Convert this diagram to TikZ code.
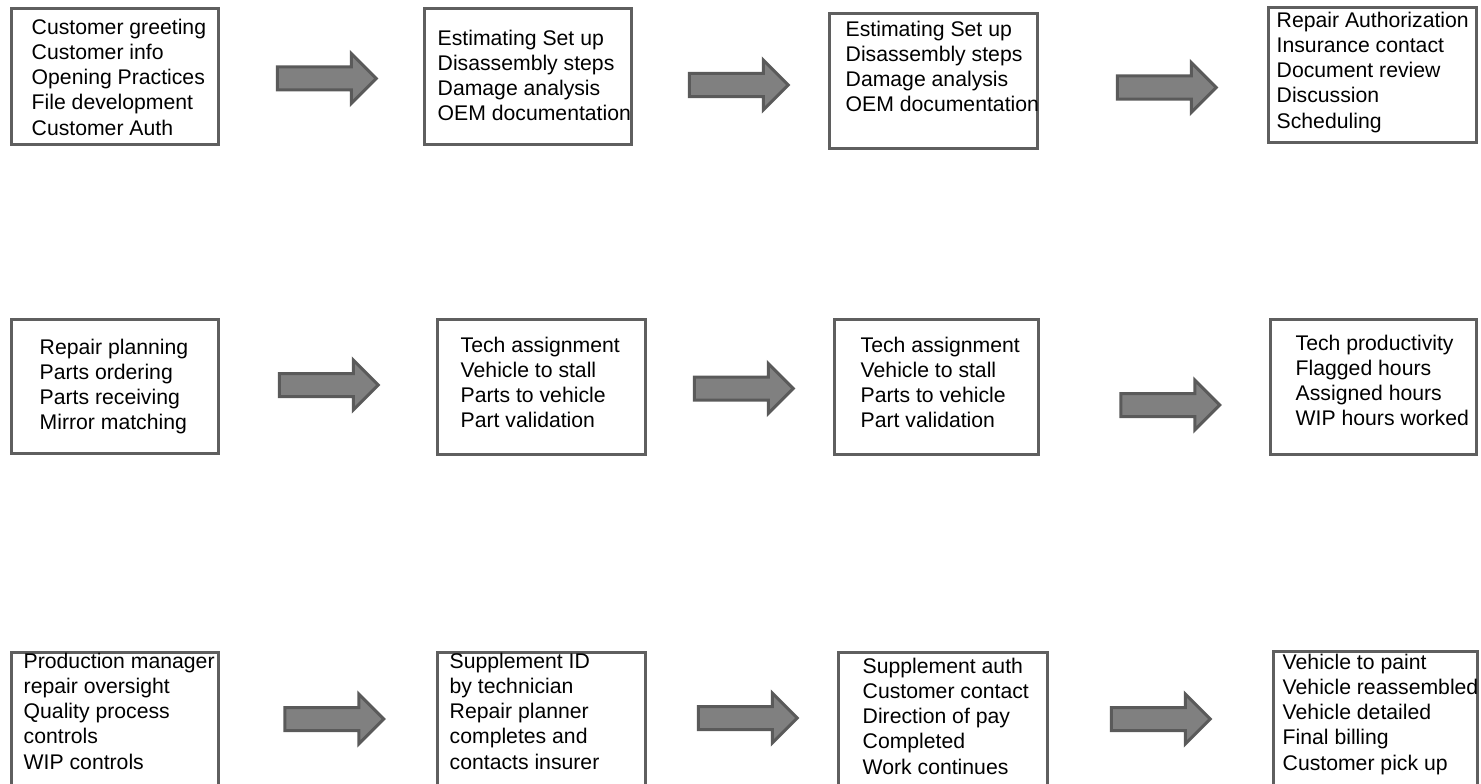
\documentclass[tikz,border=0pt]{standalone}
\usepackage{fontspec}
\setmainfont{Liberation Sans}
\usetikzlibrary{positioning, shapes.arrows}
\definecolor{boxline}{RGB}{95,95,95}
\definecolor{arrowfill}{RGB}{128,128,128}
\definecolor{arrowline}{RGB}{90,90,90}
\tikzset{
    stepbox/.style={draw=boxline, line width=3pt, anchor=north west, inner sep=0pt, outer sep=0pt},
    steptext/.style={align=left, inner sep=0pt, font=\fontsize{21.2}{25.3}\selectfont},
    bigarrow/.style={single arrow, draw=arrowline, fill=arrowfill, line width=3pt, inner sep=10pt,
        single arrow head extend=13.5pt, single arrow tip angle=90, minimum height=99pt}
}

\begin{document}
\begin{tikzpicture}[x=1pt,y=-1pt]
        \useasboundingbox (0,0) rectangle (1481,784);
        % Row 1
        \node[stepbox, minimum width=207pt, minimum height=136pt] (b1) at (11.5,8.5) {};
        \node[stepbox, minimum width=207pt, minimum height=136pt] (b2) at (424.5,8.5) {};
        \node[stepbox, minimum width=208pt, minimum height=135pt] (b3) at (829.5,13.5) {};
        \node[stepbox, minimum width=208pt, minimum height=135pt] (b4) at (1268.5,7.5) {};
        \node[steptext, below right=10pt and 20pt of b1.north west] (t1) {Customer greeting\\Customer info\\Opening Practices\\File development\\Customer Auth};
        \node[steptext, below right=21pt and 13pt of b2.north west] (t2) {Estimating Set up\\Disassembly steps\\Damage analysis\\OEM documentation};
        \node[steptext, below right=7pt and 16pt of b3.north west] (t3) {Estimating Set up\\Disassembly steps\\Damage analysis\\OEM documentation};
        \node[steptext, below right=4pt and 8pt of b4.north west] (t4) {Repair Authorization\\Insurance contact\\Document review\\Discussion\\Scheduling};
        \node[bigarrow] (a1) at (321,78.5) {};
        \node[bigarrow] (a2) at (733,85) {};
        \node[bigarrow] (a3) at (1161,87.5) {};
        % Row 2
        \node[stepbox, minimum width=207pt, minimum height=134pt] (b5) at (11.5,319.5) {};
        \node[stepbox, minimum width=208pt, minimum height=135pt] (b6) at (437.5,319.5) {};
        \node[stepbox, minimum width=204pt, minimum height=135pt] (b7) at (834.5,319.5) {};
        \node[stepbox, minimum width=206pt, minimum height=135pt] (b8) at (1270.5,319.5) {};
        \node[steptext, below right=19pt and 28pt of b5.north west] (t5) {Repair planning\\Parts ordering\\Parts receiving\\Mirror matching};
        \node[steptext, below right=17pt and 23pt of b6.north west] (t6) {Tech assignment\\Vehicle to stall\\Parts to vehicle\\Part validation};
        \node[steptext, below right=17pt and 26pt of b7.north west] (t7) {Tech assignment\\Vehicle to stall\\Parts to vehicle\\Part validation};
        \node[steptext, below right=15pt and 25pt of b8.north west] (t8) {Tech productivity\\Flagged hours\\Assigned hours\\WIP hours worked};
        \node[bigarrow] (a4) at (323,385) {};
        \node[bigarrow] (a5) at (738,388.5) {};
        \node[bigarrow] (a6) at (1164.5,405) {};
        % Row 3
        \node[stepbox, minimum width=207pt, minimum height=150pt] (b9) at (11.5,652.5) {};
        \node[stepbox, minimum width=208pt, minimum height=150pt] (b10) at (437.5,652.5) {};
        \node[stepbox, minimum width=209pt, minimum height=150pt] (b11) at (838.5,652.5) {};
        \node[stepbox, minimum width=204pt, minimum height=150pt] (b12) at (1273.5,651.5) {};
        \node[steptext, below right=0pt and 12pt of b9.north west] (t9) {Production manager\\repair oversight\\Quality process\\controls\\WIP controls};
        \node[steptext, below right=0pt and 12pt of b10.north west] (t10) {Supplement ID\\by technician\\Repair planner\\completes and\\contacts insurer};
        \node[steptext, below right=5pt and 24pt of b11.north west] (t11) {Supplement auth\\Customer contact\\Direction of pay\\Completed\\Work continues};
        \node[steptext, below right=2pt and 9pt of b12.north west] (t12) {Vehicle to paint\\Vehicle reassembled\\Vehicle detailed\\Final billing\\Customer pick up};
        \node[bigarrow] (a7) at (328.5,719) {};
        \node[bigarrow] (a8) at (742,718) {};
        \node[bigarrow] (a9) at (1155,719) {};
    \end{tikzpicture}
\end{document}
